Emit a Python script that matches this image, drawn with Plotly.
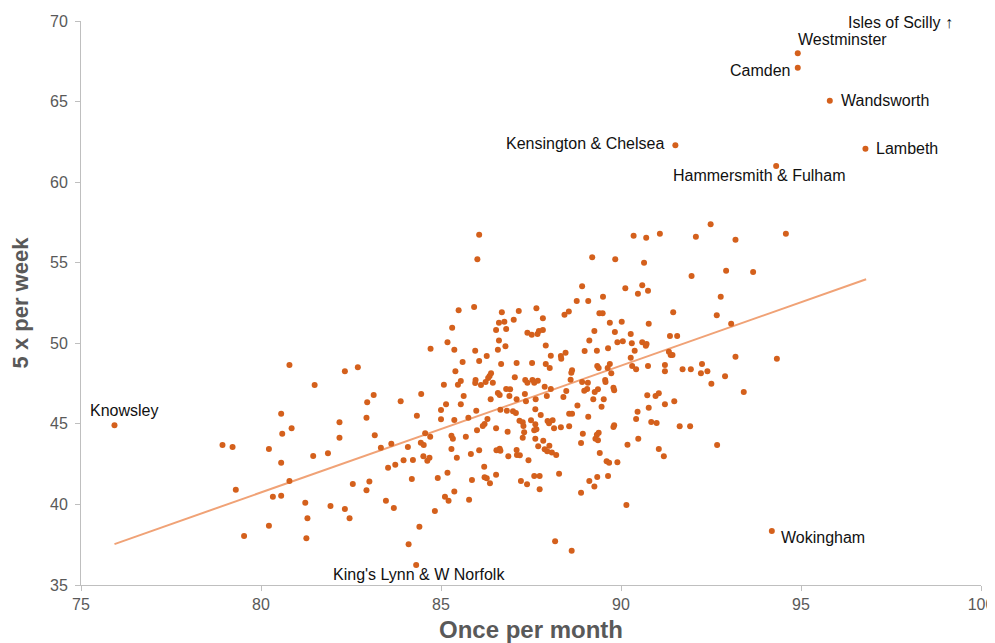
import plotly.graph_objects as go

# ---- data ----
once_per_month = [
    80.79, 80.56, 80.85, 80.59, 78.93, 79.21, 80.22, 80.56, 80.79, 79.30,
    80.33, 80.56, 81.23, 80.22, 81.29, 79.53, 81.26, 82.33, 82.69, 81.49,
    82.95, 82.93, 86.06, 86.01, 85.92, 85.49, 85.31, 85.18, 84.71, 85.37,
    85.95, 85.60, 86.06, 85.40, 85.08, 85.55, 85.47, 85.96, 85.95, 83.13,
    83.88, 84.45, 85.63, 85.14, 85.55, 85.00, 85.98, 84.33, 85.00, 85.37,
    85.76, 86.11, 82.18, 82.18, 83.16, 83.62, 83.33, 84.08, 84.56, 84.70,
    84.44, 84.52, 85.29, 85.33, 85.69, 86.00, 85.29, 86.06, 81.45, 81.86,
    84.51, 84.68, 84.62, 84.22, 83.96, 85.44, 85.83, 83.53, 83.73, 85.18,
    84.91, 84.19, 85.86, 82.55, 83.01, 82.93, 85.37, 85.11, 85.21, 85.78,
    81.93, 82.33, 83.47, 83.69, 84.83, 82.46, 84.40, 84.10,
    90.35, 90.70, 89.20, 89.84, 90.64, 88.92, 90.12, 90.59, 90.47, 90.75,
    88.77, 89.09, 89.50, 86.69, 87.16, 87.65, 88.43, 88.55, 89.40, 89.49,
    86.61, 86.76, 87.02, 87.83, 86.53, 86.81, 87.40, 87.52, 87.68, 87.72,
    87.83, 89.69, 90.02, 90.77, 89.26, 89.83, 90.27, 86.61, 86.79, 86.58,
    89.12, 89.90, 90.05, 90.30, 90.59, 90.69, 90.71, 87.91, 88.99, 89.33,
    89.64, 90.38, 86.27, 88.05, 88.33, 88.34, 88.46, 90.27, 86.67, 87.10,
    87.53, 87.91, 88.02, 89.34, 89.38, 89.69, 89.63, 90.31, 90.42, 90.75,
    88.64, 88.62, 89.73, 86.39, 86.35, 86.31, 86.24, 86.44, 87.05, 87.34,
    87.40, 87.54, 87.59, 87.69, 88.60, 88.92, 89.08, 89.56, 89.57, 87.88,
    88.05, 89.79, 89.81, 89.06, 88.98, 89.36, 89.27, 86.58, 86.63, 86.81,
    86.92, 86.90, 87.33, 87.94, 88.48, 88.40, 90.73, 86.38, 87.10, 87.36,
    87.63, 89.23, 89.52, 88.79, 89.46, 87.62, 86.65, 86.83, 87.00, 87.08,
    87.77, 88.56, 88.64, 89.09, 90.46, 90.77,
    86.29, 86.21, 86.16, 86.53, 87.18, 87.27, 87.29, 87.31, 87.27, 87.50,
    87.62, 87.65, 87.59, 87.96, 88.00, 88.10, 88.14, 88.33, 88.56, 88.94,
    88.89, 89.38, 89.33, 89.29, 89.36, 89.81, 89.79, 90.42, 90.48, 90.18,
    86.85, 87.62, 87.84, 87.70, 88.01, 87.88, 87.95, 88.08, 88.20, 86.54,
    86.63, 86.65, 87.10, 87.11, 87.19, 86.87, 87.43, 89.41, 89.60, 89.67,
    89.90, 86.20, 86.53, 86.21, 86.27, 86.36, 87.22, 87.39, 87.59, 87.74,
    87.74, 88.28, 89.12, 89.34, 89.64, 89.26, 88.89, 90.15, 88.17, 88.63,
    92.49, 91.08, 92.08, 93.18, 94.58, 91.96, 92.92, 93.67, 92.77, 91.45,
    92.66, 93.06, 91.36, 91.56, 91.33, 91.38, 91.43, 93.18, 94.33, 91.22,
    91.22, 91.71, 91.94, 92.25, 92.22, 92.40, 92.89, 92.51, 93.41, 90.96,
    91.05, 91.22, 91.48, 90.84, 90.99, 91.63, 91.92, 91.05, 91.19, 92.67,
]
five_per_week = [
    48.65, 45.62, 44.72, 44.39, 43.69, 43.56, 43.44, 42.59, 41.45, 40.91,
    40.48, 40.54, 40.11, 38.68, 39.14, 38.04, 37.90, 48.26, 48.51, 47.41,
    46.34, 45.38, 56.74, 55.21, 52.25, 52.05, 50.97, 50.06, 49.66, 49.60,
    49.54, 48.84, 48.90, 48.26, 47.43, 47.66, 47.43, 47.72, 47.54, 46.79,
    46.40, 46.85, 46.73, 46.21, 46.21, 45.86, 45.82, 45.51, 45.28, 45.24,
    45.38, 47.41, 45.10, 44.14, 44.29, 43.77, 43.52, 43.56, 44.41, 44.20,
    43.83, 43.69, 44.26, 44.08, 44.20, 44.60, 43.44, 43.36, 43.00, 43.17,
    42.99, 42.90, 42.71, 42.76, 42.74, 42.90, 43.13, 42.28, 42.47, 41.97,
    41.64, 41.58, 41.52, 41.27, 41.43, 40.88, 40.81, 40.48, 40.23, 40.29,
    39.90, 39.72, 40.23, 39.78, 39.59, 39.14, 38.62, 37.53,
    56.68, 56.55, 55.34, 55.21, 55.00, 53.54, 53.41, 53.60, 53.08, 53.26,
    52.62, 52.62, 52.89, 51.92, 52.00, 52.17, 51.77, 51.98, 51.86, 51.86,
    51.28, 51.34, 51.46, 51.55, 50.82, 50.89, 50.66, 50.53, 50.58, 50.76,
    50.82, 51.28, 51.34, 51.22, 50.76, 50.70, 50.58, 50.18, 49.81, 49.60,
    50.18, 50.06, 50.12, 50.00, 50.06, 49.85, 49.96, 49.87, 49.52, 49.54,
    49.69, 49.54, 49.21, 49.23, 49.21, 49.04, 49.42, 49.11, 48.71, 48.78,
    48.78, 48.71, 48.47, 48.59, 48.47, 48.71, 48.47, 48.59, 48.39, 48.59,
    48.32, 48.17, 48.14, 48.14, 47.97, 47.85, 47.60, 47.55, 47.89, 47.72,
    47.55, 47.72, 47.55, 47.68, 47.74, 47.60, 47.55, 47.72, 47.60, 47.31,
    47.16, 47.24, 47.08, 47.16, 47.06, 47.14, 46.98, 46.91, 46.79, 47.16,
    47.14, 46.73, 46.85, 46.73, 47.04, 46.67, 46.77, 46.52, 46.52, 46.40,
    46.52, 46.52, 46.52, 46.14, 46.06, 45.90, 45.88, 45.82, 45.78, 45.67,
    45.55, 45.63, 45.63, 45.44, 45.75, 46.00,
    45.30, 44.99, 44.87, 44.72, 45.20, 45.10, 44.87, 44.48, 44.14, 45.22,
    44.97, 44.66, 44.60, 45.18, 45.03, 45.22, 44.72, 44.79, 44.85, 44.39,
    43.81, 44.45, 44.33, 44.08, 43.98, 44.91, 44.80, 45.30, 44.08, 43.71,
    44.51, 44.08, 43.95, 43.61, 43.64, 43.42, 43.30, 43.23, 43.07, 43.36,
    43.46, 43.33, 43.38, 43.07, 43.05, 42.99, 42.74, 43.19, 42.68, 42.59,
    42.61, 42.34, 41.84, 41.68, 41.62, 41.31, 41.45, 41.25, 41.76, 41.76,
    40.94, 41.91, 41.45, 41.70, 41.76, 41.12, 40.73, 39.96, 37.71, 37.13,
    57.38, 56.80, 56.61, 56.43, 56.80, 54.18, 54.50, 54.42, 52.89, 51.92,
    51.74, 51.22, 50.45, 50.45, 49.48, 49.27, 49.27, 49.17, 49.04, 48.65,
    48.26, 48.39, 48.39, 48.71, 48.14, 48.26, 47.95, 47.49, 46.98, 46.73,
    46.90, 46.21, 46.40, 45.11, 45.05, 44.85, 44.85, 43.44, 42.99, 43.69,
]

# labelled local authorities
label_names = ["Knowsley", "Westminster", "Camden", "Wandsworth", "Kensington & Chelsea",
               "Lambeth", "Hammersmith & Fulham", "Wokingham", "King's Lynn & W Norfolk"]
label_x = [75.93, 94.91, 94.91, 95.80, 91.51, 96.79, 94.31, 94.19, 84.31]
label_y = [44.91, 68.00, 67.10, 65.05, 62.29, 62.08, 61.00, 38.35, 36.24]

# off-chart note
offchart_name = "Isles of Scilly \u2191"
offchart_x = 99.28
offchart_y = 69.88

# linear trend line end points
trend_x = [75.93, 96.81]
trend_y = [37.54, 53.97]

x_ticks = [75, 80, 85, 90, 95, 100]
y_ticks = [35, 40, 45, 50, 55, 60, 65, 70]

# ---- styles ----
DOT = "#D4601C"
TREND = "#F0A276"
GREY = "#595959"
AXIS = "#BFBFBF"
FONT = "Liberation Sans, Arial, sans-serif"

# label placement offsets (px): xanchor, xshift, yshift
label_style = {
    "Knowsley": ("left", -26, 15),
    "Westminster": ("left", -2, 14),
    "Camden": ("right", -6, -3),
    "Wandsworth": ("left", 9, 0),
    "Kensington & Chelsea": ("right", -9, 2),
    "Lambeth": ("left", 9, 0),
    "Hammersmith & Fulham": ("center", -17, -9),
    "Wokingham": ("left", 7, -6),
    "King's Lynn & W Norfolk": ("center", 3, -9),
}

fig = go.Figure()

fig.add_trace(go.Scatter(
    x=trend_x, y=trend_y, mode="lines",
    line=dict(color=TREND, width=2), hoverinfo="skip", showlegend=False,
))

fig.add_trace(go.Scatter(
    x=once_per_month + label_x, y=five_per_week + label_y, mode="markers",
    marker=dict(color=DOT, size=6, line=dict(width=0)),
    showlegend=False,
))

annotations = []
for name, lx, ly in zip(label_names, label_x, label_y):
    anchor, xs, ys = label_style[name]
    annotations.append(dict(
        x=lx, y=ly, xref="x", yref="y", text=name, showarrow=False,
        xanchor=anchor, yanchor="middle", xshift=xs, yshift=ys,
        font=dict(family=FONT, size=16, color="#111111"),
    ))
annotations.append(dict(
    x=offchart_x, y=offchart_y, xref="x", yref="y", text=offchart_name, showarrow=False,
    xanchor="right", yanchor="middle",
    font=dict(family=FONT, size=16, color="#111111"),
))

# the page adds an 8px body margin, so the figure is sized to fit the window
fig.update_layout(
    width=987, height=635,
    margin=dict(l=73, r=14, t=13, b=58),
    paper_bgcolor="white", plot_bgcolor="white",
    font=dict(family=FONT, size=16, color=GREY),
    annotations=annotations,
    showlegend=False,
)

fig.update_xaxes(
    range=[75, 100], tickvals=x_ticks, ticktext=[str(v) for v in x_ticks],
    automargin=False,
    showgrid=False, zeroline=False,
    showline=True, linecolor=AXIS, linewidth=1,
    ticks="outside", ticklen=5, tickcolor=AXIS,
    tickfont=dict(family=FONT, size=16, color=GREY),
    title=dict(text="<b>Once per month</b>", font=dict(family=FONT, size=24, color=GREY), standoff=11),
)
fig.update_yaxes(
    range=[35, 70], tickvals=y_ticks, ticktext=[str(v) for v in y_ticks],
    automargin=False, ticklabelstandoff=4,
    showgrid=False, zeroline=False,
    showline=True, linecolor=AXIS, linewidth=1,
    ticks="outside", ticklen=5, tickcolor=AXIS,
    tickfont=dict(family=FONT, size=16, color=GREY),
    title=dict(text="<b>5 x per week</b>", font=dict(family=FONT, size=22, color=GREY), standoff=18),
)

fig.write_html("out.html")
